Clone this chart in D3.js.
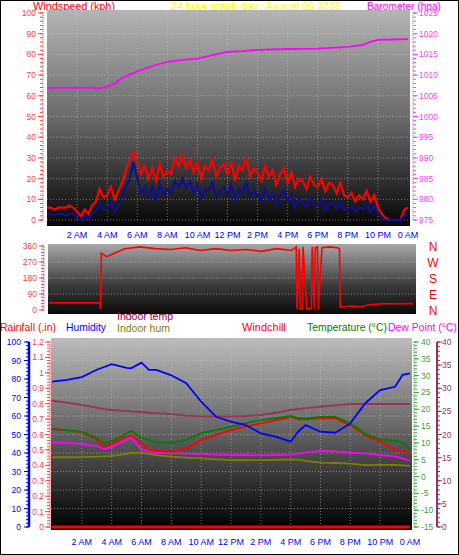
<!DOCTYPE html>
<html><head><meta charset="utf-8">
<script src="https://cdn.jsdelivr.net/npm/d3@7"></script>
<style>body{margin:0;background:#fff}svg{display:block;font-family:"Liberation Sans",Arial,sans-serif}</style>
</head><body>
<svg id="chart"></svg>
<script>
// ---- data ----
const timeTicks = [2,4,6,8,10,12,14,16,18,20,22,24];
const timeLabels = ["2 AM","4 AM","6 AM","8 AM","10 AM","12 PM","2 PM","4 PM","6 PM","8 PM","10 PM","0 AM"];

// wind, 15 min steps from 0h to 24h
const windGust = [6,6,5,6, 6,6,7,6, 4,2,5,3, 7,9,15,11, 12,16,10,14, 18,24,29,33, 28,22,26,20, 25,19,27,21,
  24,22,30,26, 31,25,29,23, 28,20,26,24, 29,21,25,27, 22,28,19,26, 24,30,21,25, 23,19,26,21, 24,17,22,25,
  18,23,16,20, 19,15,21,17, 16,20,14,18, 17,13,18,12, 11,13,9,12, 10,14,9,12, 6,3,1,0, 0,0,0,5, 6];
const windAvg = [3,3,2,3, 3,2,3,3, 1,0,2,0, 3,4,8,5, 6,9,4,7, 12,16,20,28, 20,13,16,11, 16,10,17,12,
  15,13,19,16, 20,15,19,13, 17,10,15,14, 18,11,14,16, 12,17,10,15, 13,18,11,14, 12,9,15,10, 13,7,11,14,
  9,12,6,10, 9,6,11,7, 7,10,5,8, 8,5,9,5, 5,7,4,6, 5,8,4,7, 3,1,0,0, 0,0,0,2, 3];

const baroHours = [0,3,3.5,4,4.5,5,6,7,8,9,10,11,12,13,14,16,18,20,21,21.5,22,23,24];
const baroValues = [1006.9,1006.9,1006.8,1007.2,1008,1009.3,1010.9,1012.2,1013.2,1013.7,1014,1014.8,1015.6,1015.8,1016.1,1016.3,1016.4,1016.8,1017.3,1018,1018.5,1018.6,1018.7];

const dirHours = [0,3.35,3.4,3.45,3.8,4.2,4.6,5,6,7,8,9,10,11,12,13,14,15,16,16.3,16.35,16.5,16.55,16.7,16.75,17,17.3,17.35,17.5,17.55,17.7,17.75,18,18.5,19,19.15,19.2,19.5,20,20.5,21,22,24];
const dirValues = [40,40,5,320,300,315,330,345,355,345,340,350,335,345,335,340,330,345,335,355,5,345,5,8,355,5,8,355,5,350,355,5,350,355,350,345,15,20,22,18,28,35,36];

const bHours = [0,1,2,3,3.5,4,5,5.3,6,6.5,7,8,9,10,11,12,13,14,15,16,16.5,17,18,19,20,21,22,23,23.5,24];
const temperature = [14.1,13.8,13.3,11.5,9.9,10.5,12.8,13.6,11.5,10.8,10.2,10,10.9,12.9,13.8,14.8,15.9,16.8,17.4,18,17.4,17.3,17.7,17.7,15.8,12.7,11,10.7,10,8.2];
const windchill = [14.1,13.8,13.1,11,8.9,9.8,11.9,12.3,10,7.9,7.6,7.4,8.4,10.9,12.4,13.8,14.9,15.8,16.8,17.7,17,17,17.3,17.3,15.3,12.3,10.4,8,7.5,7];
const dewPoint = [10.1,10,9.7,9,8.2,8.8,10.9,11.7,8,7.6,7.1,6.9,6.8,6.7,6.5,6.4,6.4,6.3,6.4,6.5,6.8,7.2,7.7,7.5,7.1,6.9,6.4,6,5.4,4.7];
const indoorTemp = [27.3,26.9,26.4,25.8,25.5,25.3,25.1,25,24.9,24.7,24.6,24.4,24.1,23.9,23.9,23.9,24,24.2,24.7,25.3,25.5,25.7,26,26.3,26.6,26.6,26.6,26.6,26.6,26.6];
const humidity = [78.6,79.5,81,85,86.5,88,86,85.8,88.8,84.9,84.9,82,77.7,67.7,59.6,56.9,55.1,50.6,48.8,46.1,51.5,55.1,51.5,51,56,66.9,74,75.8,82.2,83];
const indoorHum = [37.7,37.7,37.8,38,38.2,38.4,39.5,40,40.2,39.5,38.8,38,37.5,37.1,36.6,36.2,36.2,36.1,36.3,36.6,36.4,35.8,34.8,34.6,34.3,33.5,33.6,33.6,33.3,33];
const rainfall = [0,0];

// ---- drawing ----
const W = 459, H = 555;
const svg = d3.select("#chart").attr("width", W).attr("height", H);
const defs = svg.append("defs");
function grad(id, stops) {
  const g = defs.append("linearGradient").attr("id", id).attr("x1",0).attr("x2",0).attr("y1",0).attr("y2",1);
  stops.forEach(s => g.append("stop").attr("offset", s[0]).attr("stop-color", s[1]));
}
grad("bgTop", [[0,"#b4b4b4"],[0.5,"#6a6a6a"],[1,"#050505"]]);
grad("bgMid", [[0,"#a8a8a8"],[0.6,"#3a3a3a"],[1,"#0a0a0a"]]);
grad("bgBot", [[0,"#bcbcbc"],[0.45,"#6a6a6a"],[1,"#000"]]);

svg.append("rect").attr("x",0.5).attr("y",0.5).attr("width",W-1).attr("height",H-1).attr("fill","#fff").attr("stroke","#000");

function txt(x, y, s, color, size, anchor, len) {
  const t = svg.append("text").attr("x", x).attr("y", y).attr("fill", color)
    .attr("font-size", size).attr("text-anchor", anchor || "start").text(s);
  if (len) t.attr("textLength", len).attr("lengthAdjust", "spacingAndGlyphs");
  return t;
}
function vAxis(scale, x, ticks, minor, color, side, fmt, lx, dotted, width) {
  const g = svg.append("g");
  const [lo, hi] = scale.domain();
  g.append("line").attr("x1", x).attr("x2", x).attr("y1", scale(lo)).attr("y2", scale(hi))
    .attr("stroke", color).attr("stroke-width", width || 1).attr("stroke-dasharray", dotted ? "1,1" : null);
  for (let v = lo; v <= hi + 1e-9; v += minor) {
    g.append("line").attr("x1", x).attr("x2", x + side * 3).attr("y1", scale(v)).attr("y2", scale(v)).attr("stroke", color);
  }
  ticks.forEach(v => {
    g.append("line").attr("x1", x).attr("x2", x + side * 5).attr("y1", scale(v)).attr("y2", scale(v)).attr("stroke", color);
    g.append("text").attr("x", lx).attr("y", scale(v) + 3).attr("fill", color).attr("font-size", 8.5)
      .attr("text-anchor", side < 0 ? "end" : "start").text(fmt(v));
  });
}
function grid(x, y, x0, x1, yTicks, hTicks) {
  const g = svg.append("g").attr("stroke", "#c8c8c8").attr("stroke-opacity", 0.55).attr("stroke-dasharray", "1,2");
  hTicks.forEach(h => g.append("line").attr("x1", x(h)).attr("x2", x(h)).attr("y1", y.range()[0]).attr("y2", y.range()[1]));
  yTicks.forEach(v => g.append("line").attr("x1", x0).attr("x2", x1).attr("y1", y(v)).attr("y2", y(v)));
}
function timeAxis(x, y) {
  timeTicks.forEach((h, i) => txt(x(h), y, timeLabels[i], "#0000ff", 9, "middle"));
}

// titles
txt(33, 10, "Windspeed (kph)", "#ff0000", 11.5, "start", 82);
txt(256, 10, "24 hour graph day : August 06 2026", "#ffff00", 11.5, "middle", 170);
txt(441, 10, "Barometer (hpa)", "#ff00ff", 11.5, "end", 74);

// ---- top panel ----
const xT = d3.scaleLinear([0, 24], [47, 408]);
const yW = d3.scaleLinear([0, 100], [220, 13]);
const yB = d3.scaleLinear([975, 1025], [220, 13]);
svg.append("rect").attr("x", 47).attr("y", 10).attr("width", 363).attr("height", 216).attr("fill", "url(#bgTop)");
grid(xT, yW, 47, 410, d3.range(0, 101, 10), timeTicks.slice(0, 11));
vAxis(yW, 43, d3.range(0, 101, 10), 2, "#ff4040", -1, d => d, 36, true);
vAxis(yB, 413, d3.range(975, 1026, 5), 1, "#ff40ff", 1, d => d, 419, true);
const qh = windGust.map((d, i) => i * 0.25);
const lineW = d3.line().x((d, i) => xT(qh[i])).y(d => yW(d));
svg.append("path").datum(windGust).attr("d", lineW).attr("fill", "none").attr("stroke", "#ff0000").attr("stroke-width", 2.2);
svg.append("path").datum(windAvg).attr("d", lineW).attr("fill", "none").attr("stroke", "#10108a").attr("stroke-width", 2.2);
svg.append("path").datum(baroValues)
  .attr("d", d3.line().x((d, i) => xT(baroHours[i])).y(d => yB(d)))
  .attr("fill", "none").attr("stroke", "#ff00ff").attr("stroke-width", 1.8);
timeAxis(xT, 238);

// ---- wind direction panel ----
const xM = d3.scaleLinear([0, 24], [49, 413]);
const yD = d3.scaleLinear([0, 360], [310, 246]);
svg.append("rect").attr("x", 48).attr("y", 244).attr("width", 368).attr("height", 70).attr("fill", "url(#bgMid)");
grid(xM, yD, 48, 416, [90, 180, 270], []);
vAxis(yD, 44, [0, 90, 180, 270, 360], 18, "#ff4040", -1, d => d, 37, true);
svg.append("path").datum(dirValues)
  .attr("d", d3.line().x((d, i) => xM(dirHours[i])).y(d => yD(d)))
  .attr("fill", "none").attr("stroke", "#ff0000").attr("stroke-width", 1.6);
["N","W","S","E","N"].forEach((s, i) => txt(433, yD(360 - i * 90) + 5, s, "#ff0000", 12, "middle"));

// ---- bottom panel ----
txt(0, 331, "Rainfall (.in)", "#ff0000", 11.5, "start", 56);
txt(66, 331, "Humidity", "#0000ff", 11.5, "start", 40);
txt(117, 320, "Indoor temp", "#990033", 11.5, "start", 56);
txt(117, 332, "Indoor hum", "#808000", 11.5, "start", 53);
txt(242, 331, "Windchill", "#ff0000", 11.5, "start", 44);
txt(307, 331, "Temperature (°C)", "#008000", 11.5, "start", 80);
txt(388, 331, "Dew Point (°C)", "#ff00ff", 11.5, "start", 69);

const xB = d3.scaleLinear([0, 24], [52, 410]);
const yH = d3.scaleLinear([0, 100], [527, 342]);
const yR = d3.scaleLinear([0, 1.2], [527, 342]);
const yTmp = d3.scaleLinear([-15, 40], [527, 342]);
const yIn = d3.scaleLinear([0, 40], [527, 342]);
svg.append("rect").attr("x", 51).attr("y", 338).attr("width", 361).attr("height", 192).attr("fill", "url(#bgBot)");
grid(xB, yH, 51, 412, d3.range(10, 101, 10), timeTicks.slice(0, 11));
vAxis(yH, 29, d3.range(0, 101, 10), 2, "#0000ff", -1, d => d, 21, false, 2.5);
vAxis(yR, 50, d3.range(0, 1.21, 0.1), 0.02, "#ff4040", -1, d => +d.toFixed(1), 44, true);
vAxis(yTmp, 414, d3.range(-15, 41, 5), 1, "#40a040", 1, d => d, 421, true);
vAxis(yIn, 437, d3.range(0, 41, 5), 1, "#993355", 1, d => d, 442, false, 2);

function bLine(vals, y, color, w) {
  svg.append("path").datum(vals)
    .attr("d", d3.line().x((d, i) => xB(bHours[i])).y(d => y(d)))
    .attr("fill", "none").attr("stroke", color).attr("stroke-width", w || 1.8);
}
bLine(indoorHum, yH, "#808000");
bLine(indoorTemp, yIn, "#993355");
bLine(dewPoint, yTmp, "#ff00ff");
bLine(windchill, yTmp, "#ff0000");
bLine(temperature, yTmp, "#008000");
bLine(humidity, yH, "#0000ff");
svg.append("path").datum(rainfall)
  .attr("d", d3.line().x((d, i) => xB(i * 24)).y(d => yR(d)))
  .attr("stroke", "#ff0000").attr("stroke-width", 3);
timeAxis(xB, 545);
</script>
</body></html>
